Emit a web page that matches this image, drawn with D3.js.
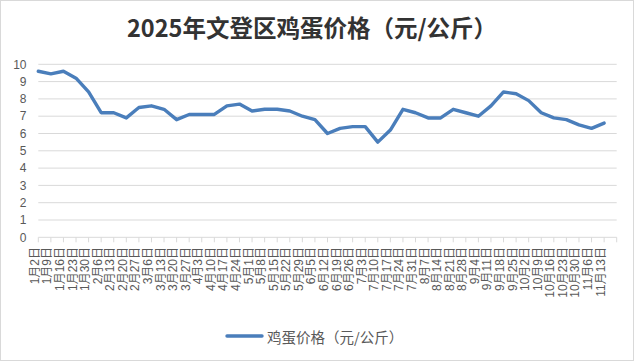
<!DOCTYPE html>
<html><head><meta charset="utf-8">
<script src="https://cdn.jsdelivr.net/npm/d3@7"></script>
<style>body{margin:0;background:#fff}svg{display:block}</style>
</head><body>
<svg id="c" width="636" height="362"></svg>
<script>
const title = "2025年文登区鸡蛋价格（元/公斤）";
const seriesName = "鸡蛋价格（元/公斤）";
const dates = ["1月2日","1月9日","1月16日","1月23日","1月30日","2月6日","2月13日","2月20日","2月27日","3月6日","3月13日","3月20日","3月27日","4月3日","4月10日","4月17日","4月24日","5月1日","5月8日","5月15日","5月22日","5月29日","6月5日","6月12日","6月19日","6月26日","7月3日","7月10日","7月17日","7月24日","7月31日","8月7日","8月14日","8月21日","8月28日","9月4日","9月11日","9月18日","9月25日","10月2日","10月9日","10月16日","10月23日","10月30日","11月6日","11月13日"];
const prices = [9.6,9.45,9.6,9.2,8.4,7.2,7.2,6.9,7.5,7.6,7.4,6.8,7.1,7.1,7.1,7.6,7.7,7.3,7.4,7.4,7.3,7.0,6.8,6.0,6.3,6.4,6.4,5.5,6.2,7.4,7.2,6.9,6.9,7.4,7.2,7.0,7.6,8.4,8.3,7.9,7.2,6.9,6.8,6.5,6.3,6.6];
const yTicks = [0,1,2,3,4,5,6,7,8,9,10];

const svg = d3.select("#c");
const font = "'Liberation Sans','Noto Sans CJK SC',sans-serif";
const cjk = "'Noto Sans CJK SC',sans-serif";
const pL = 38.3, pR = 616.7, pT = 64.3, pB = 237.3;

svg.append("rect").attr("x",0.5).attr("y",0.5).attr("width",633).attr("height",360)
  .attr("fill","#fff").attr("stroke","#d9d9d9");

const x = d3.scaleLinear().domain([0, dates.length]).range([pL, pR]);
const y = d3.scaleLinear().domain([0, 10]).range([pB, pT]);

// gridlines
svg.append("g").selectAll("line").data(yTicks.filter(d=>d>0)).join("line")
  .attr("x1",pL).attr("x2",pR).attr("y1",d=>y(d)).attr("y2",d=>y(d))
  .attr("stroke","#d9d9d9").attr("stroke-width",1);

// y labels
svg.append("g").selectAll("text").data(yTicks).join("text")
  .attr("x",26.5).attr("y",d=>y(d)).attr("dy","0.35em").attr("text-anchor","end")
  .attr("font-family",font).attr("font-size",12).attr("fill","#595959").text(d=>d);

// x axis
const xa = svg.append("g");
xa.append("line").attr("x1",pL).attr("x2",pR).attr("y1",pB).attr("y2",pB)
  .attr("stroke","#d9d9d9");
xa.selectAll("line.t").data(d3.range(dates.length+1)).join("line").attr("class","t")
  .attr("x1",d=>x(d)).attr("x2",d=>x(d)).attr("y1",pB).attr("y2",pB+5)
  .attr("stroke","#d9d9d9");
xa.selectAll("text").data(dates).join("text")
  .attr("transform",(d,i)=>`translate(${x(i)+0.5},247) rotate(-90)`)
  .attr("text-anchor","end")
  .attr("font-family",font).attr("font-size",12).attr("fill","#595959").text(d=>d);

// line
svg.append("path").datum(prices)
  .attr("d", d3.line().x((d,i)=>x(i)).y(d=>y(d)))
  .attr("fill","none").attr("stroke","#4a7ebb").attr("stroke-width",3.4)
  .attr("stroke-linejoin","round").attr("stroke-linecap","round");

// title
svg.append("text").attr("x",312).attr("y",27).attr("dominant-baseline","central")
  .attr("text-anchor","middle").attr("font-family",cjk).attr("font-weight","bold")
  .attr("font-size",23.5).attr("fill","#333").text(title);

// legend
svg.append("line").attr("x1",227).attr("x2",262).attr("y1",336).attr("y2",336)
  .attr("stroke","#4a7ebb").attr("stroke-width",3.4).attr("stroke-linecap","round");
svg.append("text").attr("x",267).attr("y",336).attr("dominant-baseline","central")
  .attr("font-family",cjk).attr("font-size",14.5).attr("fill","#595959").text(seriesName);
</script>
</body></html>
